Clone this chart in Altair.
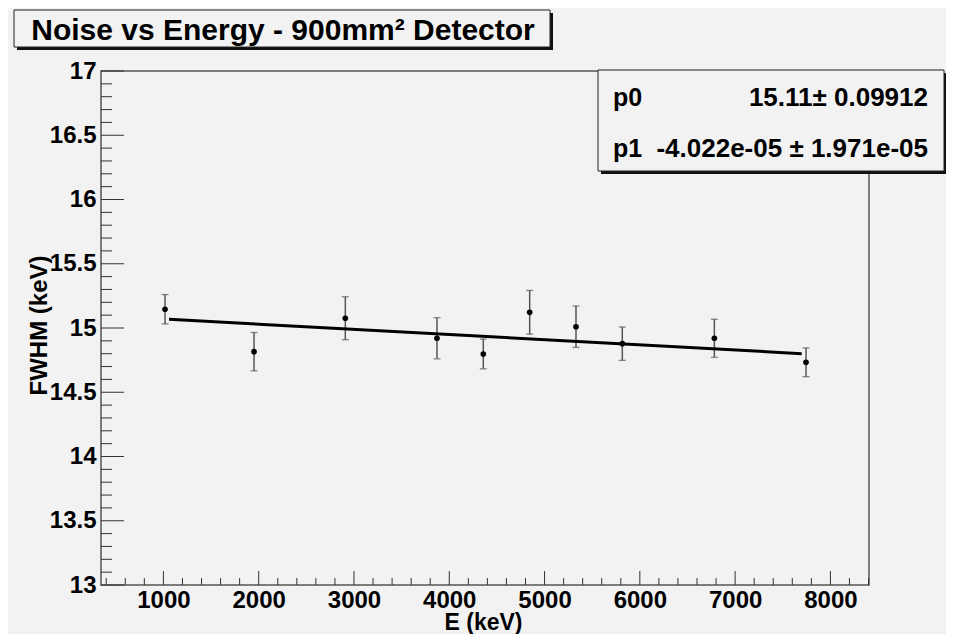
import altair as alt
import pandas as pd
import numpy as np

# ---------------- data ----------------
energy = [1017, 1951, 2909, 3871, 4357, 4844, 5330, 5816, 6782, 7744]
fwhm = [15.146, 14.816, 15.076, 14.920, 14.798, 15.122, 15.010, 14.878, 14.920, 14.733]
fwhm_err = [0.114, 0.149, 0.167, 0.160, 0.116, 0.170, 0.161, 0.130, 0.148, 0.112]

p0, p0_err = 15.11, 0.09912
p1, p1_err = -4.022e-05, 1.971e-05
fit_range = [1059, 7699]

x_ticks_major = [1000, 2000, 3000, 4000, 5000, 6000, 7000, 8000]
x_ticks_minor = [v for v in range(400, 8401, 200) if v % 1000 != 0]
y_ticks_major = [13, 13.5, 14, 14.5, 15, 15.5, 16, 16.5, 17]
y_ticks_minor = [round(13 + 0.1 * i, 1) for i in range(41) if i % 5 != 0]

title_text = "Noise vs Energy - 900mm² Detector"
x_title = "E (keV)"
y_title = "FWHM (keV)"
stat_names = ["p0", "p1"]
stat_values = ["15.11± 0.09912", "-4.022e-05 ± 1.971e-05"]

# ---------------- styling ----------------
W, H = 768, 514
FONT = "Liberation Sans"
BG = "#f2f2f2"
GRAY = "#555555"

xs = alt.Scale(domain=[345, 8405], nice=False, zero=False)
ys = alt.Scale(domain=[13, 17], nice=False, zero=False)

x_axis = alt.Axis(
    values=x_ticks_major, format="d", ticks=False, tickSize=0, domain=False, grid=False,
    labelFont=FONT, labelFontSize=24, labelFontWeight="bold", labelColor="black",
    labelPadding=3, labelFlush=False,
    title=x_title, titleFont=FONT, titleFontSize=23, titleFontWeight="bold", titleColor="black",
    titleX=382, titleY=44, titleAlign="center", titleBaseline="alphabetic",
)
y_axis = alt.Axis(
    values=y_ticks_major, format="~g", ticks=False, tickSize=0, domain=False, grid=False,
    labelFont=FONT, labelFontSize=24, labelFontWeight="bold", labelColor="black",
    labelPadding=5, labelFlush=False,
    title=y_title, titleFont=FONT, titleFontSize=24, titleFontWeight="bold", titleColor="black",
    titleAngle=270, titleX=-55, titleY=254, titleAlign="center", titleBaseline="alphabetic",
)

df = pd.DataFrame({"E": energy, "FWHM": fwhm, "err": fwhm_err})
df["lo"] = df["FWHM"] - df["err"]
df["hi"] = df["FWHM"] + df["err"]

X = alt.X("E:Q", scale=xs, axis=x_axis)

def Yf(field):
    return alt.Y(field, scale=ys, axis=y_axis)

# tick marks drawn inside the frame (ROOT style)
xmaj = alt.Chart(pd.DataFrame({"E": x_ticks_major})).mark_rule(color="#333", strokeWidth=1).encode(
    x=X, y=alt.value(H), y2=alt.value(H - 14))
xmin = alt.Chart(pd.DataFrame({"E": x_ticks_minor})).mark_rule(color="#333", strokeWidth=1).encode(
    x=X, y=alt.value(H), y2=alt.value(H - 7))
ymaj = alt.Chart(pd.DataFrame({"FWHM": y_ticks_major})).mark_rule(color="#333", strokeWidth=1).encode(
    y=Yf("FWHM:Q"), x=alt.value(0), x2=alt.value(23))
ymin = alt.Chart(pd.DataFrame({"FWHM": y_ticks_minor})).mark_rule(color="#333", strokeWidth=1).encode(
    y=Yf("FWHM:Q"), x=alt.value(0), x2=alt.value(11))

base = alt.Chart(df)
err = base.mark_rule(color=GRAY, strokeWidth=1.5).encode(x=X, y=Yf("lo:Q"), y2="hi:Q")
cap_lo = base.mark_tick(orient="horizontal", size=7, thickness=1.3, color=GRAY).encode(x=X, y=Yf("lo:Q"))
cap_hi = base.mark_tick(orient="horizontal", size=7, thickness=1.3, color=GRAY).encode(x=X, y=Yf("hi:Q"))

fit_df = pd.DataFrame({"E": fit_range})
fit_df["FWHM"] = p0 + p1 * fit_df["E"]
fit = alt.Chart(fit_df).mark_line(color="black", strokeWidth=3).encode(x=X, y=Yf("FWHM:Q"))

pts = base.mark_circle(size=32, color="black", opacity=1).encode(x=X, y=Yf("FWHM:Q"))

one = pd.DataFrame({"k": [0]})

def box(x1, x2, y1, y2):
    shadow = alt.Chart(one).mark_rect(color="#111111").encode(
        x=alt.value(x1 + 3), x2=alt.value(x2 + 3), y=alt.value(y1 + 3), y2=alt.value(y2 + 3))
    face = alt.Chart(one).mark_rect(fill=BG, stroke="#222222", strokeWidth=1).encode(
        x=alt.value(x1), x2=alt.value(x2), y=alt.value(y1), y2=alt.value(y2))
    return [shadow, face]

title_layers = box(-87, 449, -61, -24) + [
    alt.Chart(pd.DataFrame({"t": [title_text]})).mark_text(
        font=FONT, fontSize=30, fontWeight="bold", color="black", align="center", baseline="alphabetic"
    ).encode(x=alt.value(182), y=alt.value(-31), text="t:N")
]

stat_layers = box(497, 843, -1, 100)
for i, (nm, val) in enumerate(zip(stat_names, stat_values)):
    yy = 35 + 51 * i
    stat_layers.append(
        alt.Chart(pd.DataFrame({"t": [nm]})).mark_text(
            font=FONT, fontSize=25, fontWeight="bold", color="black", align="left", baseline="alphabetic"
        ).encode(x=alt.value(512), y=alt.value(yy), text="t:N"))
    stat_layers.append(
        alt.Chart(pd.DataFrame({"t": [val]})).mark_text(
            font=FONT, fontSize=26, fontWeight="bold", color="black", align="right", baseline="alphabetic"
        ).encode(x=alt.value(827), y=alt.value(yy), text="t:N"))

chart = alt.layer(
    xmin, xmaj, ymin, ymaj, err, cap_lo, cap_hi, fit, pts, *title_layers, *stat_layers
).properties(
    width=W, height=H,
    padding={"left": 93, "top": 63, "right": 77, "bottom": 49},
    autosize=alt.AutoSizeParams(type="none"),
    background=BG,
).configure_view(stroke=GRAY, strokeWidth=1.5, fill=BG)

chart.save("out.html", embed_options={"renderer": "svg", "actions": False})
